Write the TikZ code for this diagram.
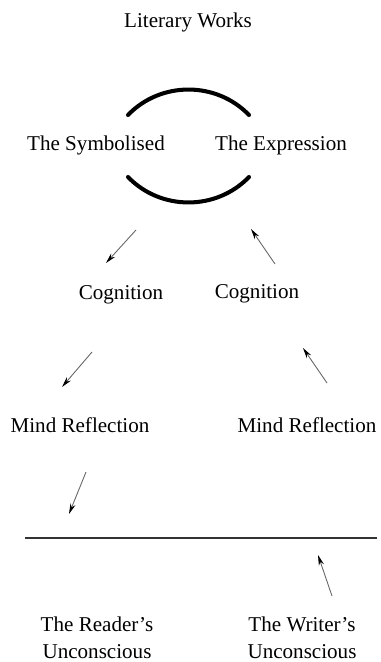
\documentclass[tikz,border=0pt]{standalone}
\usepackage{fontspec}
\setmainfont{Liberation Serif}
\usetikzlibrary{arrows.meta}

\begin{document}
\begin{tikzpicture}[x=0.02cm, y=-0.02cm,
        termino/.style={align=center, inner sep=1pt, font=\fontsize{12}{15.2}\selectfont},
        flecha/.style={-{Stealth[length=6pt, width=3pt, color=black]}, line width=0.5pt, draw=black!60},
        arco/.style={line width=2.3pt, line cap=round},
        raya/.style={line width=1.3pt, draw=black!80}
    ]
        \useasboundingbox (0,0) rectangle (380,662);

        \node[termino] (obras) at (188, 22) {Literary Works};
        \node[termino] (simbolizado) at (96, 145) {The Symbolised};
        \node[termino] (expresion) at (281, 145) {The Expression};

        \coordinate (arcoA1) at (128, 115);
        \coordinate (arcoA2) at (249, 115);
        \coordinate (arcoB1) at (128, 177);
        \coordinate (arcoB2) at (249, 177);
        \draw[arco] (arcoA1) to[bend left=46] (arcoA2);
        \draw[arco] (arcoB1) to[bend right=46] (arcoB2);

        \node[termino] (cognicionL) at (121, 295) {Cognition};
        \node[termino] (cognicionR) at (257, 294) {Cognition};
        \node[termino] (menteL) at (80, 425) {Mind Reflection};
        \node[termino] (menteR) at (307, 425) {Mind Reflection};
        \node[termino] (lector) at (97, 638) {The Reader's\\Unconscious};
        \node[termino] (escritor) at (302, 638) {The Writer's\\Unconscious};

        \coordinate (f1a) at (136, 230);
        \coordinate (f1b) at (106, 263);
        \coordinate (f2a) at (275, 264);
        \coordinate (f2b) at (251, 229);
        \coordinate (f3a) at (92, 352);
        \coordinate (f3b) at (62, 387);
        \coordinate (f4a) at (327, 383);
        \coordinate (f4b) at (303, 348);
        \coordinate (f5a) at (86, 472);
        \coordinate (f5b) at (69, 514);
        \coordinate (f6a) at (332, 596);
        \coordinate (f6b) at (318, 555);
        \draw[flecha] (f1a) -- (f1b);
        \draw[flecha] (f2a) -- (f2b);
        \draw[flecha] (f3a) -- (f3b);
        \draw[flecha] (f4a) -- (f4b);
        \draw[flecha] (f5a) -- (f5b);
        \draw[flecha] (f6a) -- (f6b);

        \coordinate (lineaL) at (25, 538);
        \coordinate (lineaR) at (377, 538);
        \draw[raya] (lineaL) -- (lineaR);
    \end{tikzpicture}
\end{document}
